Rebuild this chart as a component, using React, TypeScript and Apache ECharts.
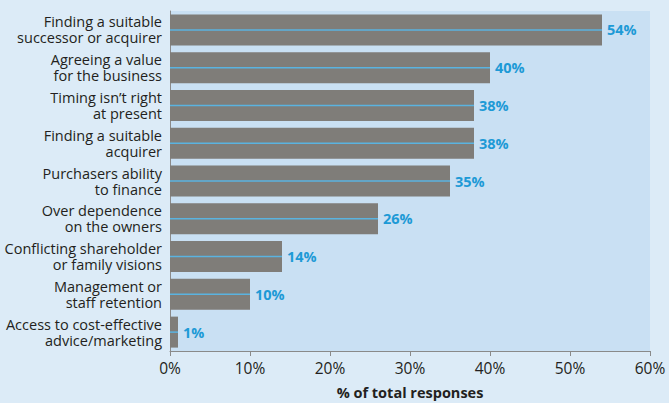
import React, { useEffect, useRef } from "react";
import * as echarts from "echarts";

const categories = [
  "Finding a suitable\nsuccessor or acquirer",
  "Agreeing a value\nfor the business",
  "Timing isn\u2019t right\nat present",
  "Finding a suitable\nacquirer",
  "Purchasers ability\nto finance",
  "Over dependence\non the owners",
  "Conflicting shareholder\nor family visions",
  "Management or\nstaff retention",
  "Access to cost-effective\nadvice/marketing",
];
const values = [54, 40, 38, 38, 35, 26, 14, 10, 1];
const xTicks = { min: 0, max: 60, interval: 10 };
const axisTitle = "% of total responses";

const FONT = "'Open Sans', 'Noto Sans', sans-serif";

export default function App() {
  const ref = useRef<HTMLDivElement>(null);
  useEffect(() => {
    if (!ref.current) return;
    const chart = echarts.init(ref.current, null, { renderer: "svg" });
    chart.setOption({
      animation: false,
      backgroundColor: "#dcebf7",
      grid: {
        left: 170,
        right: 19,
        top: 11,
        bottom: 52,
        show: true,
        backgroundColor: "#c9e0f3",
        borderWidth: 0,
        containLabel: false,
        outerBoundsMode: "none",
      },
      xAxis: {
        type: "value",
        min: xTicks.min,
        max: xTicks.max,
        interval: xTicks.interval,
        axisLine: { show: true, lineStyle: { color: "#8a8a8a", width: 1 } },
        axisTick: { show: true, length: 5, lineStyle: { color: "#8a8a8a" } },
        splitLine: { show: false },
        axisLabel: {
          formatter: "{value}%",
          color: "#231f20",
          fontFamily: FONT,
          fontSize: 15.5,
          margin: 9,
        },
        name: axisTitle,
        nameLocation: "middle",
        nameGap: 34,
        nameTextStyle: {
          color: "#231f20",
          fontFamily: FONT,
          fontSize: 14.5,
          fontWeight: "bold",
        },
      },
      yAxis: {
        type: "category",
        data: categories,
        inverse: true,
        axisLine: { show: true, lineStyle: { color: "#8a8a8a", width: 1 } },
        axisTick: { show: false },
        splitLine: { show: false },
        axisLabel: {
          color: "#231f20",
          fontFamily: FONT,
          fontSize: 14.5,
          lineHeight: 16,
          margin: 8,
          align: "right",
        },
      },
      series: [
        {
          type: "bar",
          data: values,
          barCategoryGap: "18%",
          itemStyle: { color: "#7f7d79" },
          label: {
            show: true,
            position: "right",
            distance: 5,
            formatter: "{c}%",
            color: "#1d9ad6",
            fontFamily: FONT,
            fontSize: 14.5,
            fontWeight: "bold",
          },
          z: 2,
        },
        {
          type: "custom",
          data: values.map((v, i) => [i, v]),
          z: 3,
          silent: true,
          renderItem: (params: any, api: any) => {
            const idx = api.value(0);
            const v = api.value(1);
            const start = api.coord([0, idx]);
            const end = api.coord([v, idx]);
            return {
              type: "line",
              shape: { x1: start[0], y1: start[1], x2: end[0], y2: end[1] },
              style: { stroke: "#5ab3e0", lineWidth: 1.5 },
            };
          },
          encode: { x: 1, y: 0 },
        },
      ],
    });
    return () => chart.dispose();
  }, []);
  return <div ref={ref} style={{ width: 669, height: 403, position: "fixed", left: 0, top: 0 }} />;
}
